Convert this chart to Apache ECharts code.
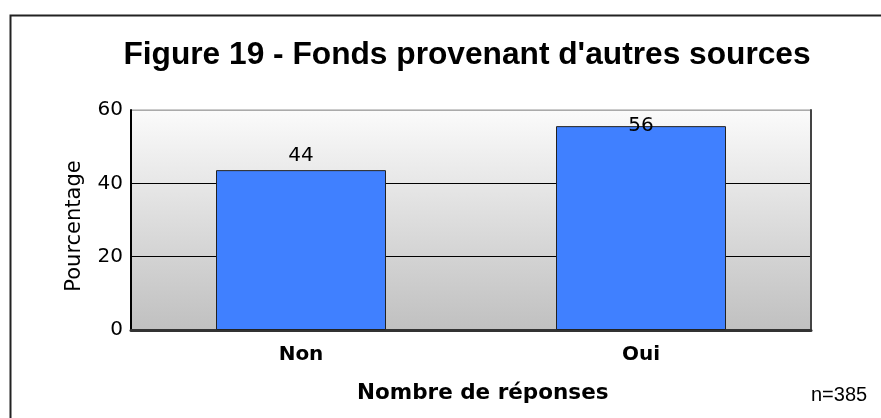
<!DOCTYPE html>
<html>
<head>
<meta charset="utf-8">
<script src="https://cdn.jsdelivr.net/npm/echarts@6/dist/echarts.min.js"></script>
<style>
  html, body { margin: 0; padding: 0; background: #fff; }
  #chart { width: 881px; height: 418px; }
</style>
</head>
<body>
<div id="chart"></div>
<script>
const categories = ["Non", "Oui"];
const values = [43.6, 55.6];
const yTicks = [0, 20, 40, 60];

const arial = "Liberation Sans, Arial, sans-serif";
const wide = "DejaVu Sans, sans-serif";
const chart = echarts.init(document.getElementById("chart"));

chart.setOption({
  animation: false,
  title: {
    text: "Figure 19 - Fonds provenant d'autres sources",
    left: 462, top: 34, textAlign: "center",
    textStyle: { fontFamily: arial, fontSize: 31.7, fontWeight: "bold", color: "#000" }
  },
  grid: {
    left: 131, right: 70, top: 110, bottom: 88,
    show: true,
    borderColor: "#999", borderWidth: 1,
    backgroundColor: new echarts.graphic.LinearGradient(0, 0, 0, 1, [
      { offset: 0, color: "#fbfbfb" },
      { offset: 0.5, color: "#dddddd" },
      { offset: 1, color: "#c0c0c0" }
    ])
  },
  xAxis: {
    type: "category",
    data: categories,
    axisTick: { show: false },
    axisLine: { lineStyle: { color: "#333", width: 3 } },
    axisLabel: { fontFamily: wide, fontSize: 20, fontWeight: "bold", color: "#000", margin: 15 }
  },
  yAxis: [{
    type: "value",
    min: yTicks[0], max: yTicks[yTicks.length - 1], interval: 20,
    name: "Pourcentage", nameLocation: "middle", nameGap: 46,
    nameTextStyle: { fontFamily: wide, fontSize: 21, color: "#000", padding: [0, 12, 0, 0] },
    axisLine: { show: true, lineStyle: { color: "#000", width: 2 } },
    axisTick: { show: false },
    axisLabel: { fontFamily: wide, fontSize: 20, color: "#000", margin: 8 },
    splitLine: { lineStyle: { color: ["transparent", "#000", "#000", "#aaa"], width: 1 } }
  }, {
    type: "value", position: "right",
    min: yTicks[0], max: yTicks[yTicks.length - 1], interval: 20,
    axisLine: { show: true, lineStyle: { color: "#444", width: 2 } },
    axisTick: { show: false }, axisLabel: { show: false }, splitLine: { show: false }
  }],
  series: [{
    type: "bar",
    barWidth: "50%",
    data: values.map((v, i) => ({
      value: v,
      label: { distance: i === 1 ? -10 : 4 }
    })),
    itemStyle: { color: "#4080ff", borderColor: "#222", borderWidth: 1 },
    label: {
      show: true, position: "top",
      fontFamily: wide, fontSize: 20, color: "#000",
      formatter: p => Math.round(p.value)
    }
  }],
  graphic: [
    {
      type: "rect", left: 8, top: 13,
      shape: { width: 900, height: 500 },
      style: { fill: "none", stroke: "#222", lineWidth: 2 }
    },
    {
      type: "text", left: 357, top: 382,
      style: { text: "Nombre de réponses", font: "bold 21.5px " + wide, fill: "#000" }
    },
    {
      type: "text", left: 811, top: 385,
      style: { text: "n=385", font: "20px " + arial, fill: "#000" }
    }
  ]
});
</script>
</body>
</html>
